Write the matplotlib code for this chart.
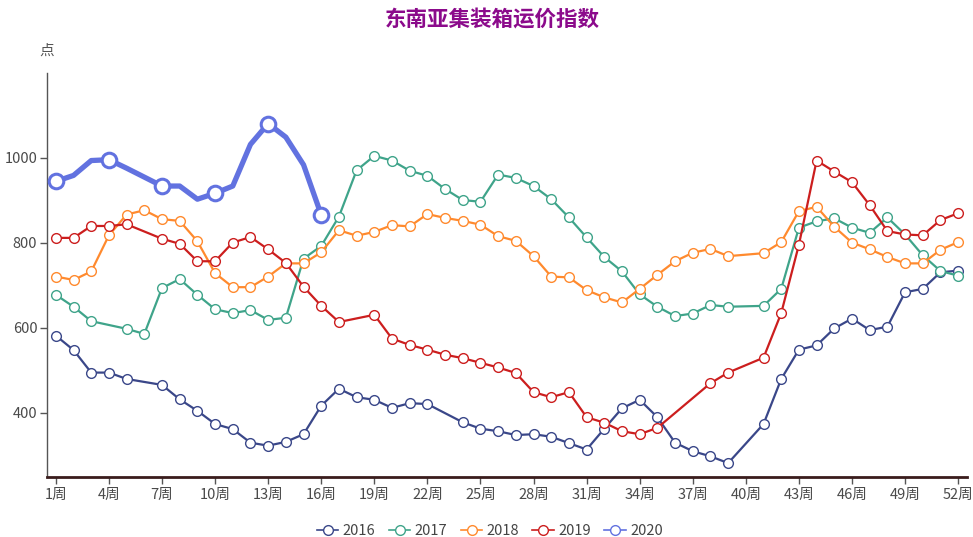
import numpy as np
import matplotlib
matplotlib.use("Agg")
import matplotlib.pyplot as plt
from matplotlib.lines import Line2D

plt.rcParams['font.family'] = ['Noto Sans CJK SC', 'DejaVu Sans']

weeks = list(range(1, 53))
tick_weeks = list(range(1, 53, 3))
tick_labels = [f"{w}周" for w in tick_weeks]

N = None
s2016 = [582, 548, 495, 495, 480, N, 466, 432, 405, 374, 362, 330, 323, 332, 350, 417,
         457, 437, 431, 412, 423, 421, N, 378, 363, 357, 348, 350, 344, 329, 314, 363,
         411, 431, 390, 330, 310, 298, 282, N, 374, 480, 549, 559, 599, 622, 595, 603,
         684, 692, 731, 735]
s2017 = [678, 650, 616, N, 598, 586, 694, 715, 678, 644, 635, 642, 619, 624, 763, 793,
         862, 971, 1005, 994, 970, 958, 927, 901, 897, 961, 953, 934, 903, 860, 813, 767,
         733, 679, 650, 628, 634, 654, 650, N, 652, 692, 836, 851, 858, 836, 824, 860,
         820, 771, 734, 723]
s2018 = [721, 713, 733, 818, 867, 877, 856, 852, 804, 729, 696, 696, 721, 752, 752, 778,
         830, 817, 826, 842, 839, 868, 859, 852, 843, 816, 805, 769, 721, 719, 689, 672,
         660, 692, 725, 757, 777, 786, 769, N, 776, 802, 875, 885, 838, 801, 785, 767,
         752, 752, 784, 802]
s2019 = [812, 812, 840, 840, 844, N, 810, 798, 757, 757, 801, 814, 785, 753, 697, 652,
         614, N, 631, 575, 560, 549, 537, 529, 518, 507, 494, 449, 437, 449, 390, 377,
         357, 350, 365, N, N, 470, 495, N, 530, 635, 796, 994, 968, 943, 889, 828,
         820, 818, 854, 870]
s2020 = [945, 959, 994, 996, 976, 955, 934, 934, 903, 917, 934, 1032, 1081, 1049, 984, 866]

series = [
    ("2016", s2016, "#3a4789"),
    ("2017", s2017, "#3fa48a"),
    ("2018", s2018, "#ff8a2e"),
    ("2019", s2019, "#cc1e1e"),
]

fig = plt.figure(figsize=(9.73, 5.37), dpi=100)
ax = fig.add_axes([47 / 973, 1 - 476.7 / 537, (967 - 47) / 973, (476.7 - 73) / 537])

for name, vals, col in series:
    x = np.array(weeks, dtype=float)
    y = np.array([np.nan if v is None else v for v in vals], dtype=float)
    m = ~np.isnan(y)
    ax.plot(x[m], y[m], color=col, lw=1.6, marker='o', ms=7.0, mfc='white',
            mec=col, mew=1.0, zorder=3, solid_joinstyle='round')

x20 = np.array(weeks[:len(s2020)], dtype=float)
ax.plot(x20, s2020, color="#6272e0", lw=3.8, marker='o', ms=10.5, mfc='white',
        mec="#6272e0", mew=2.2, markevery=3, zorder=4, solid_joinstyle='round',
        solid_capstyle='round')

ax.set_xlim(0.5, 52.5)
ax.set_ylim(250, 1200)
ax.set_xticks(tick_weeks)
ax.set_xticklabels(tick_labels)
ax.set_yticks([400, 600, 800, 1000])

for s in ['top', 'right']:
    ax.spines[s].set_visible(False)
ax.spines['left'].set_color('#555555')
ax.spines['left'].set_linewidth(1.0)
ax.spines['bottom'].set_color('#3a1c1c')
ax.spines['bottom'].set_linewidth(2.0)
ax.tick_params(axis='x', colors='#4a4a4a', labelsize=10.5, length=5, width=1, pad=3,
               color='#555555')
ax.tick_params(axis='y', colors='#4a4a4a', labelsize=10.5, length=5, width=1, pad=2,
               color='#555555')

fig.text(492 / 973, 1 - 20 / 537, "东南亚集装箱运价指数", ha='center', va='center',
         fontsize=15.5, color='#8b0a8b', fontweight='bold')
fig.text(47 / 973, 1 - 51 / 537, "点", ha='center', va='center', fontsize=10.5,
         color='#555555')

handles = []
for name, vals, col in series:
    handles.append(Line2D([0], [0], color=col, lw=1.2, marker='o', ms=7, mfc='white',
                          mec=col, mew=1.0, label=name))
handles.append(Line2D([0], [0], color="#6272e0", lw=1.2, marker='o', ms=7, mfc='white',
                      mec="#6272e0", mew=1.0, label="2020"))
fig.legend(handles=handles, loc='center', bbox_to_anchor=(490 / 973, 1 - 531 / 537),
           ncol=5, frameon=False, fontsize=10.5, handlelength=1.5, handletextpad=0.3,
           columnspacing=0.9, labelcolor='#444444')

fig.savefig("out.png", dpi=100)
